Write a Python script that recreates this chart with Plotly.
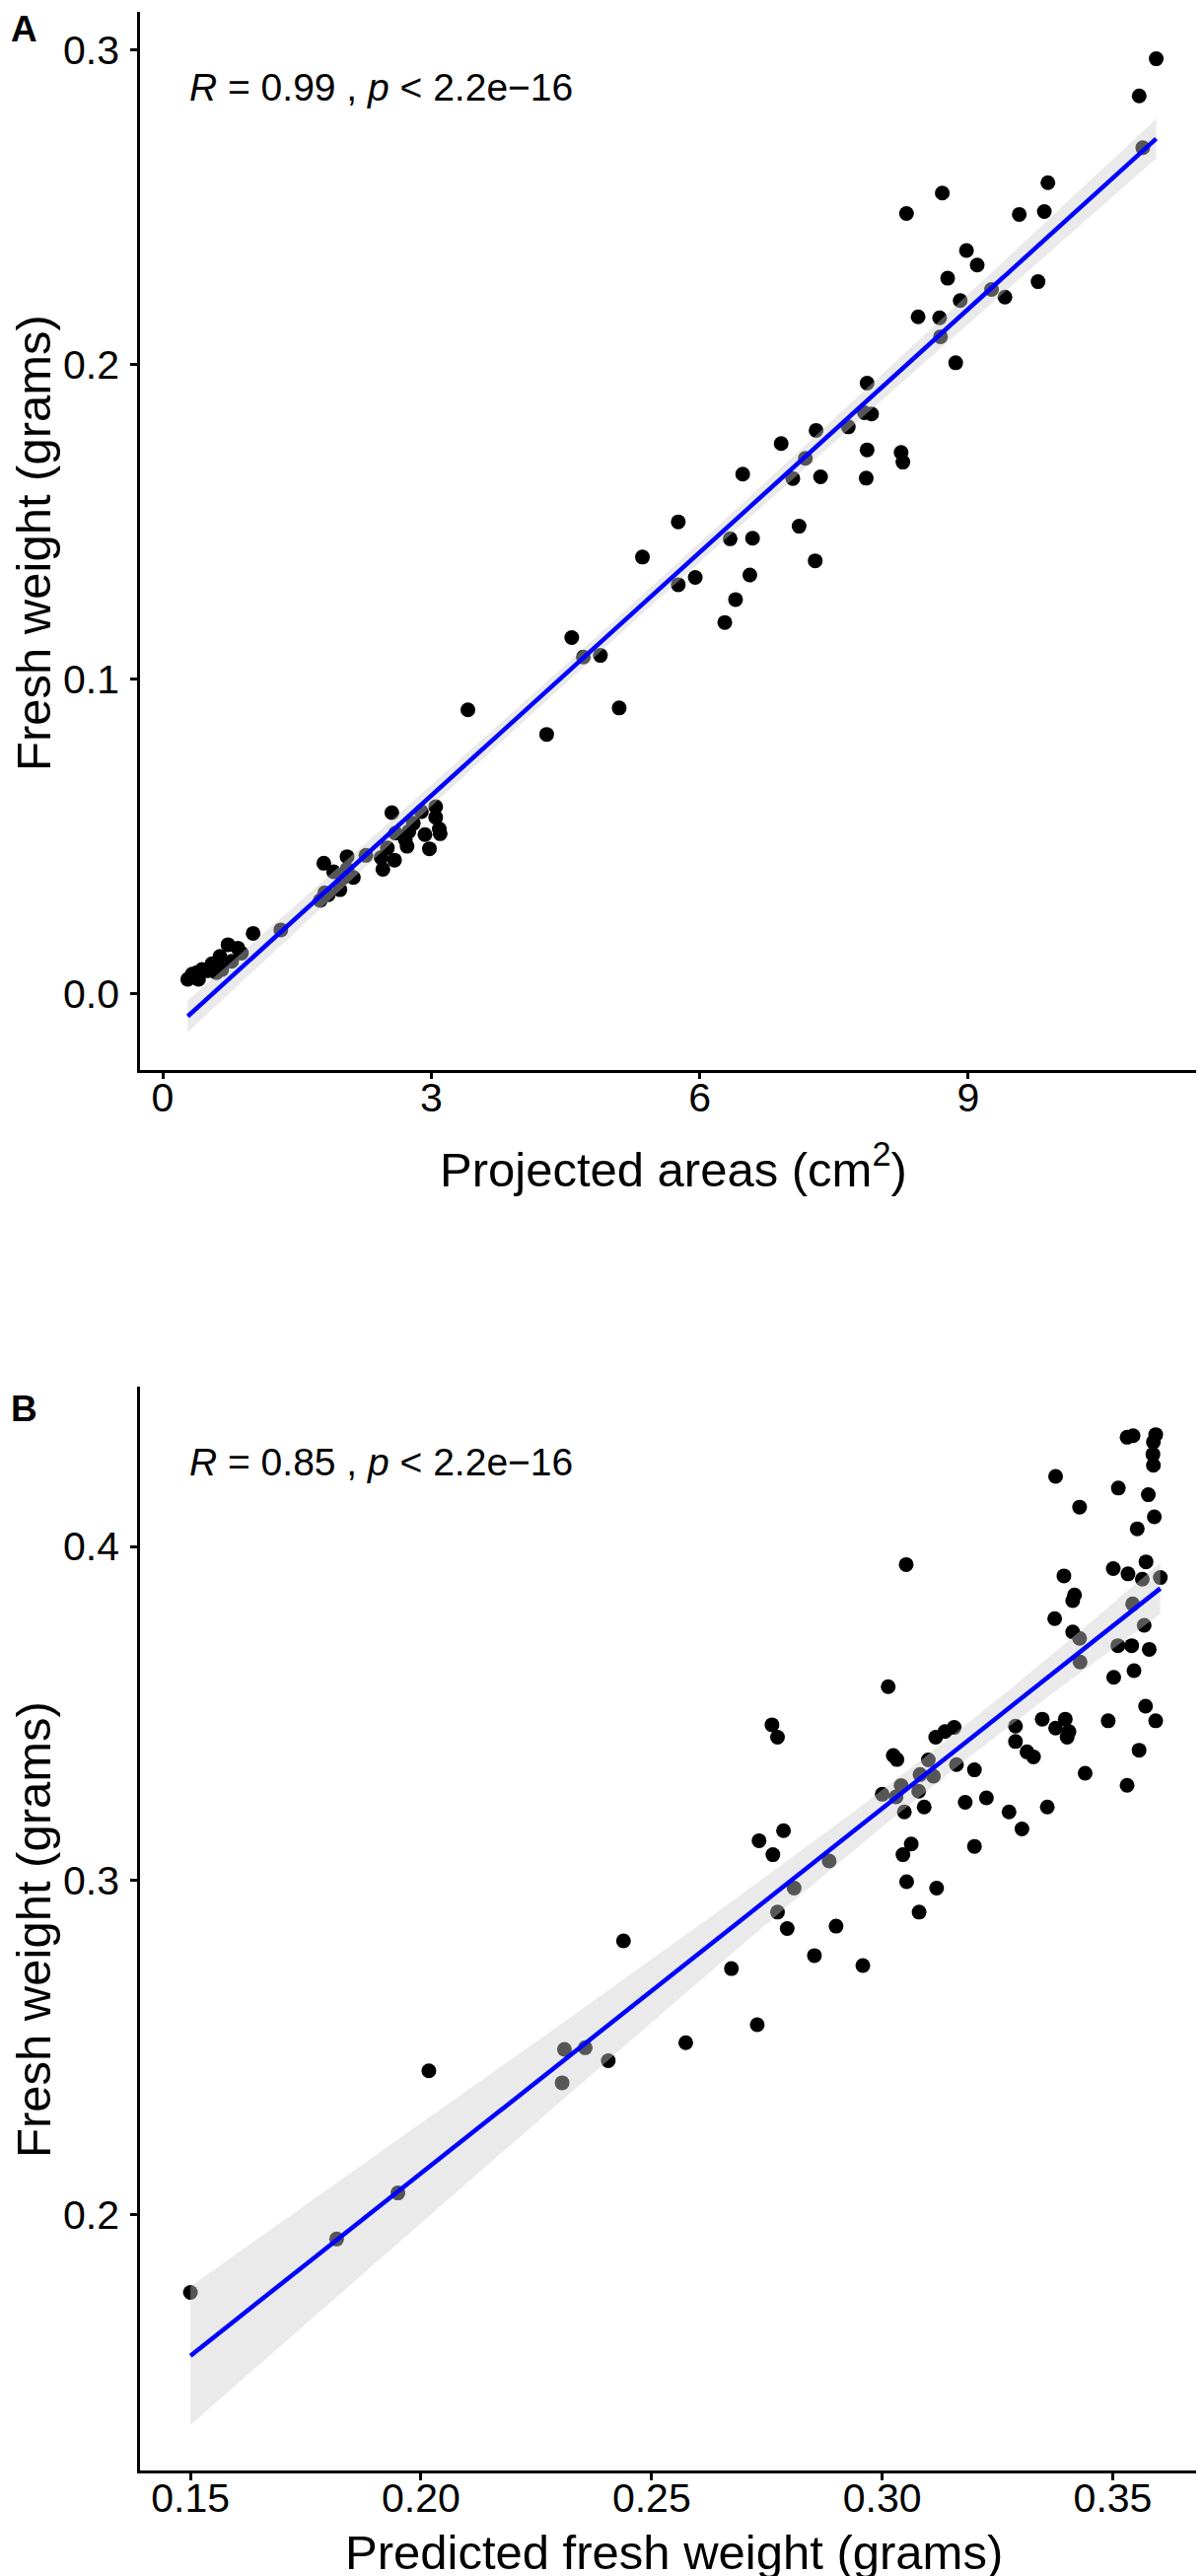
import numpy as np
import plotly.graph_objects as go

# ---------------- Panel A data ----------------
area_x = [11.10, 10.91, 10.95, 9.89, 8.71, 8.31, 9.85, 9.57, 8.98, 9.10, 8.77, 9.78, 9.26, 9.41, 8.91,
          8.44, 8.68, 8.69, 8.86,
          7.87, 7.84, 7.92, 7.66, 7.30, 6.91, 7.18, 7.87, 8.25, 8.27, 7.04, 7.35, 7.86, 6.48, 7.11,
          7.29, 5.76, 6.34, 6.59, 6.56, 6.40, 6.28, 5.76, 5.95, 5.36, 4.57, 4.70, 4.89, 5.10, 4.29,
          3.41, 2.56, 2.89, 3.05, 3.05, 2.80, 3.09, 3.10, 2.60, 2.75, 2.93, 2.71, 2.73, 2.98, 2.51,
          2.44, 2.59, 2.46, 2.27, 2.06, 1.80, 1.91, 2.06, 2.13, 2.02, 1.98, 1.85, 1.76, 1.81,
          1.32, 1.01,
          0.73, 0.84, 0.88, 0.64, 0.77, 0.55, 0.66, 0.60, 0.44, 0.50, 0.38, 0.33, 0.40, 0.28]
weight_a = [0.2973, 0.2855, 0.2690, 0.2579, 0.2546, 0.2481, 0.2487, 0.2478, 0.2363, 0.2317, 0.2275,
            0.2264, 0.2239, 0.2215, 0.2204, 0.2152, 0.2149, 0.2089, 0.2006,
            0.1941, 0.1847, 0.1843, 0.1802, 0.1791, 0.1749, 0.1702, 0.1729, 0.1721, 0.1690, 0.1638,
            0.1643, 0.1639, 0.1652, 0.1486, 0.1376, 0.1500, 0.1446, 0.1448, 0.1331, 0.1253, 0.1180,
            0.1300, 0.1323, 0.1388, 0.1132, 0.1070, 0.1075, 0.0908, 0.0824,
            0.0902, 0.0575, 0.0578, 0.0594, 0.0560, 0.0541, 0.0523, 0.0508, 0.0510, 0.0515, 0.0505,
            0.0489, 0.0468, 0.0460, 0.0463, 0.0432, 0.0424, 0.0395, 0.0439, 0.0435, 0.0414, 0.0387,
            0.0395, 0.0369, 0.0369, 0.0330, 0.0314, 0.0296, 0.0320,
            0.0202, 0.0191,
            0.0155, 0.0144, 0.0128, 0.0118, 0.0102, 0.0094, 0.0076, 0.0066, 0.0076, 0.0072, 0.0066,
            0.0061, 0.0045, 0.0045]

# ---------------- Panel B data ----------------
pred_x = [0.3531, 0.3544, 0.3593, 0.3588, 0.3587, 0.3588, 0.3376, 0.3512, 0.3577, 0.3428, 0.3590,
          0.3553, 0.3052, 0.3501, 0.3533, 0.3572, 0.3564, 0.3603, 0.3394, 0.3417, 0.3413, 0.3374,
          0.3543, 0.3413, 0.3428, 0.3568, 0.3511, 0.3541, 0.3579, 0.3429, 0.3546, 0.3502, 0.3013,
          0.3571, 0.3593, 0.3490, 0.3347, 0.3397, 0.3376, 0.3405, 0.3401, 0.3289, 0.3289, 0.3314,
          0.3328, 0.3557, 0.3440, 0.3531, 0.3116, 0.3136, 0.3156, 0.3024, 0.3032, 0.3161, 0.3200,
          0.3100, 0.3111, 0.3082, 0.3041, 0.3079, 0.3226, 0.3180, 0.3000, 0.3030,
          0.1500, 0.1817, 0.1950, 0.2017, 0.2311, 0.2356, 0.2306, 0.2406, 0.2439, 0.2574, 0.2673,
          0.2729, 0.2733, 0.2763, 0.2761, 0.2773, 0.2786, 0.2773, 0.2794, 0.2809, 0.2853, 0.2885,
          0.2900, 0.2958, 0.3048, 0.3045, 0.3053, 0.3063, 0.3080, 0.3091, 0.3118, 0.3200, 0.3275,
          0.3303, 0.3358]
fresh_b = [0.4327, 0.4332, 0.4335, 0.4313, 0.4276, 0.4243, 0.4210, 0.4175, 0.4155, 0.4118, 0.4089,
           0.4053, 0.3946, 0.3934, 0.3918, 0.3954, 0.3902, 0.3907, 0.3912, 0.3855, 0.3838, 0.3784,
           0.3828, 0.3744, 0.3725, 0.3764, 0.3703, 0.3703, 0.3692, 0.3654, 0.3628, 0.3608, 0.3580,
           0.3522, 0.3478, 0.3478, 0.3483, 0.3483, 0.3456, 0.3446, 0.3429, 0.3462, 0.3416, 0.3385,
           0.3370, 0.3390, 0.3321, 0.3285, 0.3429, 0.3446, 0.3458, 0.3374, 0.3362, 0.3347, 0.3331,
           0.3361, 0.3312, 0.3317, 0.3284, 0.3267, 0.3247, 0.3234, 0.3258, 0.3250,
           0.1766, 0.1926, 0.2064, 0.2430, 0.2494, 0.2499, 0.2394, 0.2460, 0.2819, 0.2514, 0.2736,
           0.2568, 0.3119, 0.3077, 0.3466, 0.3429, 0.3149, 0.2905, 0.2856, 0.2977, 0.2775, 0.3058,
           0.2863, 0.2745, 0.3205, 0.3077, 0.2996, 0.3109, 0.2905, 0.3220, 0.2977, 0.3102, 0.3205,
           0.3154, 0.3220]

ticks_a_x = [0, 3, 6, 9]
ticks_a_y = [0.0, 0.1, 0.2, 0.3]
ticks_b_x = [0.15, 0.20, 0.25, 0.30, 0.35]
ticks_b_y = [0.2, 0.3, 0.4]

label_a = "<i>R</i> = 0.99 , <i>p</i> &lt; 2.2e\u221216"
label_b = "<i>R</i> = 0.85 , <i>p</i> &lt; 2.2e\u221216"


def lm_band(x, y, n=80, tval=1.985):
    x = np.asarray(x, float)
    y = np.asarray(y, float)
    b, a = np.polyfit(x, y, 1)
    res = y - (a + b * x)
    s = np.sqrt(np.sum(res ** 2) / (len(x) - 2))
    xm = x.mean()
    sxx = np.sum((x - xm) ** 2)
    xs = np.linspace(x.min(), x.max(), n)
    fit = a + b * xs
    se = s * np.sqrt(1.0 / len(x) + (xs - xm) ** 2 / sxx)
    return xs, fit, fit - tval * se, fit + tval * se


W, H = 1221, 2612
FONT = "Liberation Sans, Arial, Helvetica, sans-serif"

fig = go.Figure()


def add_panel(fig, x, y, xa, ya):
    fig.add_trace(go.Scatter(x=x, y=y, mode="markers", xaxis=xa, yaxis=ya,
                             marker=dict(size=15, color="black", line=dict(width=0)),
                             showlegend=False, hoverinfo="skip"))
    xs, fit, lo, hi = lm_band(x, y)
    fig.add_trace(go.Scatter(x=np.concatenate([xs, xs[::-1]]),
                             y=np.concatenate([hi, lo[::-1]]),
                             mode="lines", fill="toself", xaxis=xa, yaxis=ya,
                             fillcolor="rgba(205,205,205,0.42)", line=dict(width=0),
                             showlegend=False, hoverinfo="skip"))
    fig.add_trace(go.Scatter(x=xs, y=fit, mode="lines", xaxis=xa, yaxis=ya,
                             line=dict(color="#0000FF", width=4.5),
                             showlegend=False, hoverinfo="skip"))


add_panel(fig, area_x, weight_a, "x", "y")
add_panel(fig, pred_x, fresh_b, "x2", "y2")


def px(v):
    return v / W


def py(v):
    return 1 - v / H


axis_common = dict(showgrid=False, zeroline=False, showline=True, linecolor="black",
                   linewidth=2.5, ticks="outside", ticklen=7, tickwidth=2.5, tickcolor="black",
                   tickfont=dict(family=FONT, size=41, color="black"))

fig.update_layout(
    width=W, height=H,
    margin=dict(l=0, r=0, t=0, b=0),
    paper_bgcolor="white", plot_bgcolor="white",
    xaxis=dict(domain=[px(134), px(1217)], range=[-0.2534, 11.678], tickvals=ticks_a_x,
               anchor="y", ticklabelstandoff=-17, **axis_common),
    yaxis=dict(domain=[py(1076.7), py(4)], range=[-0.02428, 0.31223], tickvals=ticks_a_y,
               tickformat=".1f", anchor="x", ticklabelstandoff=3, **axis_common),
    xaxis2=dict(domain=[px(134), px(1217)], range=[0.13907, 0.37063], tickvals=ticks_b_x,
                tickformat=".2f", anchor="y2", ticklabelstandoff=-17, **axis_common),
    yaxis2=dict(domain=[py(2497.2), py(1397.6)], range=[0.12324, 0.44799], tickvals=ticks_b_y,
                tickformat=".1f", anchor="x2", ticklabelstandoff=3, **axis_common),
)

ann = []


def text(x, y, t, size, xanchor="center", yanchor="middle", angle=0, weight="normal"):
    ann.append(dict(x=px(x), y=py(y), xref="paper", yref="paper", text=t, showarrow=False,
                    xanchor=xanchor, yanchor=yanchor, textangle=angle,
                    font=dict(family=FONT, size=size, color="black", weight=weight)))


text(1, 22, "A", 37, xanchor="left", weight="bold")
text(1, 1420, "B", 37, xanchor="left", weight="bold")
text(182, 80, label_a, 39, xanchor="left")
text(182, 1474, label_b, 39, xanchor="left")
text(675, 1174, "Projected areas (cm<sup>2</sup>)", 49)
text(675, 2580, "Predicted fresh weight (grams)", 49)
text(26, 543, "Fresh weight (grams)", 49, angle=-90)
text(26, 1949, "Fresh weight (grams)", 49, angle=-90)
fig.update_layout(annotations=ann)

fig.write_html("out.html")
